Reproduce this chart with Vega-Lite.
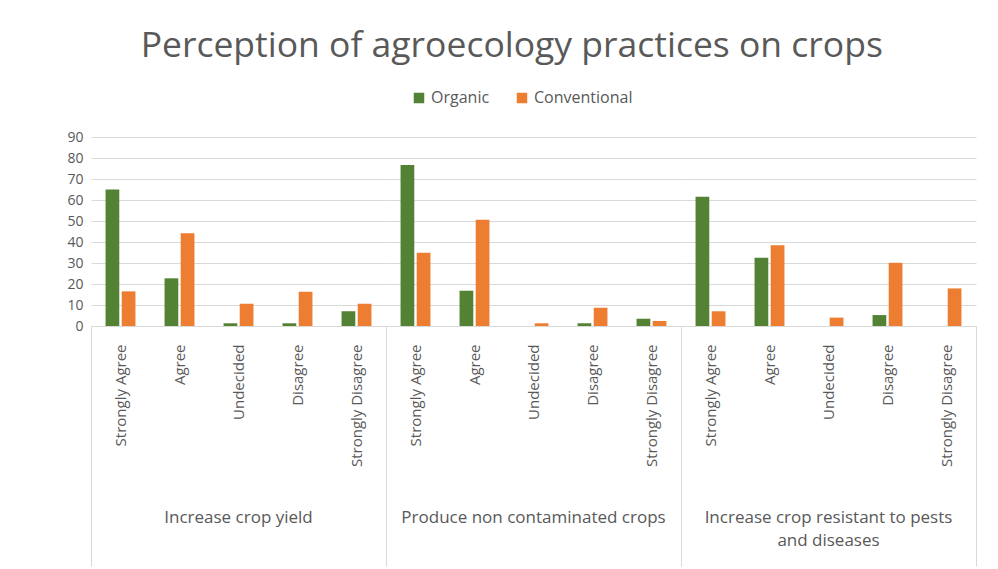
{
  "$schema": "https://vega.github.io/schema/vega-lite/v6.json",
  "padding": {"left": 66, "top": 28, "right": 21, "bottom": 0},
  "title": {"text": "Perception of agroecology practices on crops", "fontSize": 35.5, "font": "Open Sans", "fontWeight": "normal", "color": "#595959", "anchor": "middle", "offset": 26, "dx": -10},
  "data": {"values": [
    {"group": "Increase crop yield", "response": "Strongly Agree", "series": "Organic", "value": 65.0},
    {"group": "Increase crop yield", "response": "Strongly Agree", "series": "Conventional", "value": 16.5},
    {"group": "Increase crop yield", "response": "Agree", "series": "Organic", "value": 22.7},
    {"group": "Increase crop yield", "response": "Agree", "series": "Conventional", "value": 44.2},
    {"group": "Increase crop yield", "response": "Undecided", "series": "Organic", "value": 1.3},
    {"group": "Increase crop yield", "response": "Undecided", "series": "Conventional", "value": 10.6},
    {"group": "Increase crop yield", "response": "Disagree", "series": "Organic", "value": 1.3},
    {"group": "Increase crop yield", "response": "Disagree", "series": "Conventional", "value": 16.3},
    {"group": "Increase crop yield", "response": "Strongly Disagree", "series": "Organic", "value": 7.0},
    {"group": "Increase crop yield", "response": "Strongly Disagree", "series": "Conventional", "value": 10.6},
    {"group": "Produce non contaminated crops", "response": "Strongly Agree", "series": "Organic", "value": 76.7},
    {"group": "Produce non contaminated crops", "response": "Strongly Agree", "series": "Conventional", "value": 34.9},
    {"group": "Produce non contaminated crops", "response": "Agree", "series": "Organic", "value": 16.8},
    {"group": "Produce non contaminated crops", "response": "Agree", "series": "Conventional", "value": 50.6},
    {"group": "Produce non contaminated crops", "response": "Undecided", "series": "Organic", "value": 0},
    {"group": "Produce non contaminated crops", "response": "Undecided", "series": "Conventional", "value": 1.3},
    {"group": "Produce non contaminated crops", "response": "Disagree", "series": "Organic", "value": 1.3},
    {"group": "Produce non contaminated crops", "response": "Disagree", "series": "Conventional", "value": 8.7},
    {"group": "Produce non contaminated crops", "response": "Strongly Disagree", "series": "Organic", "value": 3.5},
    {"group": "Produce non contaminated crops", "response": "Strongly Disagree", "series": "Conventional", "value": 2.4},
    {"group": "Increase crop resistant to pests and diseases", "response": "Strongly Agree", "series": "Organic", "value": 61.5},
    {"group": "Increase crop resistant to pests and diseases", "response": "Strongly Agree", "series": "Conventional", "value": 7.0},
    {"group": "Increase crop resistant to pests and diseases", "response": "Agree", "series": "Organic", "value": 32.5},
    {"group": "Increase crop resistant to pests and diseases", "response": "Agree", "series": "Conventional", "value": 38.4},
    {"group": "Increase crop resistant to pests and diseases", "response": "Undecided", "series": "Organic", "value": 0},
    {"group": "Increase crop resistant to pests and diseases", "response": "Undecided", "series": "Conventional", "value": 4.0},
    {"group": "Increase crop resistant to pests and diseases", "response": "Disagree", "series": "Organic", "value": 5.2},
    {"group": "Increase crop resistant to pests and diseases", "response": "Disagree", "series": "Conventional", "value": 30.1},
    {"group": "Increase crop resistant to pests and diseases", "response": "Strongly Disagree", "series": "Organic", "value": 0},
    {"group": "Increase crop resistant to pests and diseases", "response": "Strongly Disagree", "series": "Conventional", "value": 17.9}
  ]},
  "facet": {
    "column": {
      "field": "group", "type": "nominal",
      "sort": ["Increase crop yield", "Produce non contaminated crops", "Increase crop resistant to pests and diseases"],
      "title": null,
      "header": {
        "labelOrient": "bottom",
        "labelPadding": -57,
        "labelFontSize": 17,
        "labelFont": "Open Sans",
        "labelColor": "#595959",
        "labelLineHeight": 23,
        "labelBaseline": "top",
        "labelExpr": "datum.value == 'Increase crop resistant to pests and diseases' ? ['Increase crop resistant to pests', 'and diseases'] : datum.value"
      }
    }
  },
  "spacing": 0,
  "spec": {
    "width": 295,
    "height": 189,
    "mark": {"type": "bar"},
    "encoding": {
      "x": {
        "field": "response", "type": "nominal",
        "sort": ["Strongly Agree", "Agree", "Undecided", "Disagree", "Strongly Disagree"],
        "scale": {"paddingInner": 0, "paddingOuter": 0},
        "axis": {
          "title": null,
          "labelAngle": -90,
          "labelFont": "Open Sans",
          "labelFontSize": 15,
          "labelColor": "#595959",
          "domainColor": "#D9D9D9",
          "grid": false,
          "tickBand": "extent",
          "tickSize": 240,
          "tickColor": "#D9D9D9",
          "tickOpacity": {"condition": {"test": "datum.value === 'Strongly Disagree' || datum.extra", "value": 1}, "value": 0},
          "labelPadding": -222
        }
      },
      "xOffset": {
        "field": "series", "type": "nominal",
        "sort": ["Organic", "Conventional"],
        "scale": {"paddingInner": 0.15, "paddingOuter": 0.9}
      },
      "y": {
        "field": "value", "type": "quantitative",
        "scale": {"domain": [0, 90], "nice": false},
        "axis": {
          "title": null,
          "values": [0, 10, 20, 30, 40, 50, 60, 70, 80, 90],
          "labelFont": "Open Sans",
          "labelFontSize": 14,
          "labelColor": "#595959",
          "labelPadding": 8,
          "domain": false,
          "ticks": false,
          "gridColor": "#D9D9D9"
        }
      },
      "color": {
        "field": "series", "type": "nominal",
        "sort": ["Organic", "Conventional"],
        "scale": {"domain": ["Organic", "Conventional"], "range": ["#548235", "#ED7D31"]},
        "legend": {
          "title": null,
          "orient": "top",
          "direction": "horizontal",
          "symbolType": "square",
          "symbolSize": 110,
          "labelFont": "Open Sans",
          "labelFontSize": 16,
          "labelColor": "#595959",
          "columnPadding": 24,
          "offset": 24
        }
      }
    }
  },
  "config": {
    "view": {"stroke": null},
    "legend": {"layout": {"top": {"anchor": "middle"}}}
  }
}
